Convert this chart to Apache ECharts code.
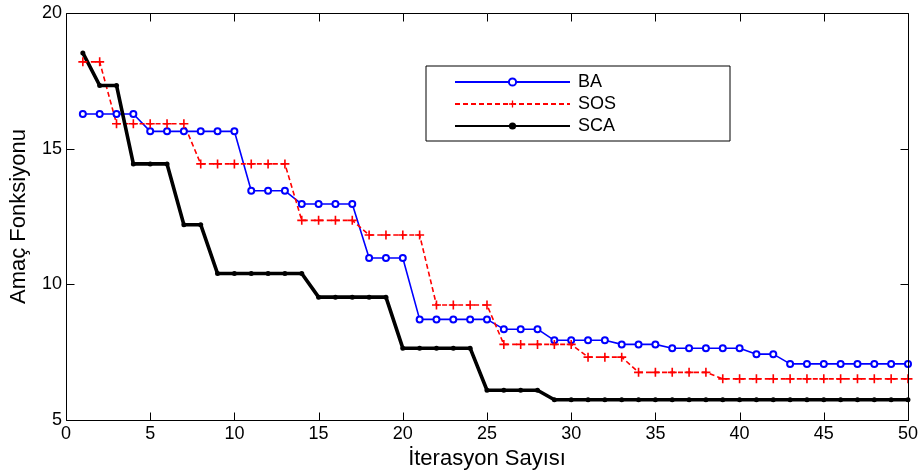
<!DOCTYPE html>
<html>
<head>
<meta charset="utf-8">
<script src="https://cdn.jsdelivr.net/npm/echarts@6/dist/echarts.min.js"></script>
<style>
  html, body { margin: 0; padding: 0; background: #fff; }
  #chart { width: 921px; height: 475px; }
</style>
</head>
<body>
<div id="chart"></div>
<script>
// iterasyon numaralari
var iter = [1,2,3,4,5,6,7,8,9,10,11,12,13,14,15,16,17,18,19,20,21,22,23,24,25,
            26,27,28,29,30,31,32,33,34,35,36,37,38,39,40,41,42,43,44,45,46,47,48,49,50];

var baVals = [16.28,16.28,16.28,16.28,15.64,15.64,15.64,15.64,15.64,15.64,
              13.45,13.45,13.45,12.96,12.96,12.96,12.96,10.97,10.97,10.97,
              8.71,8.71,8.71,8.71,8.71,8.35,8.35,8.35,7.94,7.94,
              7.94,7.94,7.79,7.79,7.79,7.65,7.65,7.65,7.65,7.65,
              7.43,7.43,7.07,7.07,7.07,7.07,7.07,7.07,7.07,7.07];

var sosVals = [18.2,18.2,15.92,15.92,15.92,15.92,15.92,14.44,14.44,14.44,
               14.44,14.44,14.44,12.36,12.36,12.36,12.36,11.82,11.82,11.82,
               11.82,9.24,9.24,9.24,9.24,7.79,7.79,7.79,7.79,7.79,
               7.32,7.32,7.32,6.76,6.76,6.76,6.76,6.76,6.52,6.52,
               6.52,6.52,6.52,6.52,6.52,6.52,6.52,6.52,6.52,6.52];

var scaVals = [18.53,17.33,17.33,14.44,14.44,14.44,12.2,12.2,10.4,10.4,
               10.4,10.4,10.4,10.4,9.53,9.53,9.53,9.53,9.53,7.65,
               7.65,7.65,7.65,7.65,6.1,6.1,6.1,6.1,5.75,5.75,
               5.75,5.75,5.75,5.75,5.75,5.75,5.75,5.75,5.75,5.75,
               5.75,5.75,5.75,5.75,5.75,5.75,5.75,5.75,5.75,5.75];

var seriesNames = ['BA', 'SOS', 'SCA'];

// eksen sinirlari ve tik degerleri
var X_MIN = 0, X_MAX = 50, Y_MIN = 5, Y_MAX = 20;
var xTicks = [0, 5, 10, 15, 20, 25, 30, 35, 40, 45, 50];
var yTicks = [5, 10, 15, 20];

function pairs(vals) {
	var out = [];
	for (var i = 0; i < iter.length; i++) out.push([iter[i], vals[i]]);
	return out;
}

var FONT = '"Liberation Sans", Arial, sans-serif';
var TICK = 8;
// arti isareti (+)
var plusPath = 'path://M4.1,0 H5.9 V4.1 H10 V5.9 H5.9 V10 H4.1 V5.9 H0 V4.1 H4.1 Z';

var legendBox = {
	type: 'rect',
	z: 10,
	shape: { x: 426, y: 66, width: 304, height: 75 },
	style: { fill: '#fff', stroke: '#000', lineWidth: 1 }
};

var myChart = echarts.init(document.getElementById('chart'));

var option = {
	animation: false,
	grid: { left: 63, right: 11, top: 13, bottom: 49 },
	graphic: [legendBox],
	legend: {
		z: 20,
		orient: 'vertical',
		left: 449,
		top: 68,
		itemWidth: 115,
		itemHeight: 9,
		itemGap: 4,
		data: seriesNames,
		textStyle: { fontFamily: FONT, fontSize: 18, color: '#000', padding: [0, 0, 0, 3] }
	},
	xAxis: [
		{
			type: 'value',
			min: X_MIN, max: X_MAX, interval: 5,
			name: 'İterasyon Sayısı',
			nameLocation: 'middle',
			nameGap: 21,
			nameTextStyle: { fontFamily: FONT, fontSize: 22, color: '#000' },
			axisLine: { show: false },
			axisTick: { show: false },
			axisLabel: { fontFamily: FONT, fontSize: 18, color: '#000', margin: 5 },
			splitLine: { show: false }
		}
	],
	yAxis: [
		{
			type: 'value',
			min: Y_MIN, max: Y_MAX, interval: 5,
			name: 'Amaç Fonksiyonu',
			nameLocation: 'middle',
			nameGap: 36,
			nameTextStyle: { fontFamily: FONT, fontSize: 22, color: '#000' },
			axisLine: { show: false },
			axisTick: { show: false },
			axisLabel: { fontFamily: FONT, fontSize: 18, color: '#000', margin: 4 },
			splitLine: { show: false }
		}
	],
	series: [
		{
			name: 'BA',
			type: 'line',
			data: pairs(baVals),
			symbol: 'emptyCircle',
			symbolSize: 6,
			showAllSymbol: true,
			color: '#0000ff',
			lineStyle: { color: '#0000ff', width: 1.6 },
			itemStyle: { color: '#0000ff', borderWidth: 1.6 }
		},
		{
			name: 'SOS',
			type: 'line',
			data: pairs(sosVals),
			symbol: plusPath,
			symbolSize: 9,
			showAllSymbol: true,
			color: '#ff0000',
			lineStyle: { color: '#ff0000', width: 1.6, type: [5, 3] },
			itemStyle: { color: '#ff0000', borderWidth: 0 }
		},
		{
			name: 'SCA',
			type: 'line',
			data: pairs(scaVals),
			symbol: 'circle',
			symbolSize: 5,
			showAllSymbol: true,
			color: '#000',
			lineStyle: { color: '#000', width: 3.6 },
			itemStyle: { color: '#000' }
		}
	]
};

myChart.setOption(option);

// kutu ve ic tikler: konumlar eksen olceginden alinir
function px(x, y) { return myChart.convertToPixel({ gridIndex: 0 }, [x, y]); }
function crisp(v) { return Math.round(v) + 0.5; }
function seg(x1, y1, x2, y2) {
	return { type: 'line', z: 12, shape: { x1: x1, y1: y1, x2: x2, y2: y2 }, style: { stroke: '#000', lineWidth: 1 } };
}
function frameGraphics() {
	var els = [legendBox];
	var p0 = px(X_MIN, Y_MAX), p1 = px(X_MAX, Y_MIN);
	var x0 = crisp(p0[0]), y0 = crisp(p0[1]), x1 = crisp(p1[0]), y1 = crisp(p1[1]);
	els.push({ type: 'rect', z: 12, shape: { x: x0, y: y0, width: x1 - x0, height: y1 - y0 },
		style: { fill: 'none', stroke: '#000', lineWidth: 1 } });
	for (var i = 0; i < xTicks.length; i++) {
		var tx = crisp(px(xTicks[i], Y_MIN)[0]);
		els.push(seg(tx, y1, tx, y1 - TICK));
		els.push(seg(tx, y0, tx, y0 + TICK));
	}
	for (var j = 0; j < yTicks.length; j++) {
		var ty = crisp(px(X_MIN, yTicks[j])[1]);
		els.push(seg(x0, ty, x0 + TICK, ty));
		els.push(seg(x1, ty, x1 - TICK, ty));
	}
	return els;
}
myChart.setOption({ graphic: frameGraphics() });
</script>
</body>
</html>
